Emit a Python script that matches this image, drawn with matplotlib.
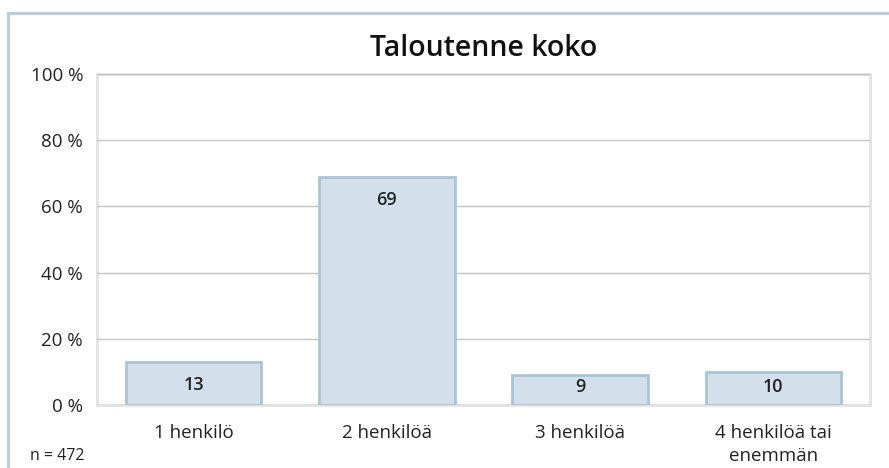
import matplotlib.pyplot as plt
from matplotlib.patches import Rectangle

categories = ["1 henkilö", "2 henkilöä", "3 henkilöä", "4 henkilöä tai\nenemmän"]
values = [13, 69, 9, 10]
yticks = [0, 20, 40, 60, 80, 100]
title = "Taloutenne koko"
note = "n = 472"

plt.rcParams['font.family'] = ['Open Sans', 'DejaVu Sans']

W, H = 889, 468
fig = plt.figure(figsize=(W / 100, H / 100), dpi=100)

# outer frame (left/top visible)
fig.patches.append(Rectangle((8 / W, -0.1), 1.2, (H - 13) / H + 0.1, transform=fig.transFigure,
                             fill=False, edgecolor='#b7cedb', linewidth=2.2))

ax = fig.add_axes([97 / W, (H - 405) / H, (870 - 97) / W, (405 - 74) / H])
x = range(len(categories))
ax.bar(x, values, width=0.70, color='#d3e0eb', edgecolor='#a9c4d6', linewidth=2, zorder=3)
for xi, v in zip(x, values):
    ax.annotate(str(v), (xi, max(v - 7.0, 5.5)), ha='center', va='center',
                fontsize=13, fontweight='semibold', color='#222222', zorder=4)

ax.set_ylim(0, 100)
ax.set_xlim(-0.5, len(categories) - 0.5)
ax.set_yticks(yticks)
ax.set_yticklabels([f"{t} %" for t in yticks], fontsize=13.5, color='#222222')
ax.set_xticks(list(x))
ax.set_xticklabels(categories, fontsize=13.5, color='#222222', linespacing=1.35)
ax.tick_params(length=0, pad=10)
ax.tick_params(axis='x', pad=14)
ax.yaxis.grid(True, color='#c4c4c4', linewidth=1, zorder=0)
for s in ax.spines.values():
    s.set_color('#e2e2e2')
    s.set_linewidth(2)
    s.set_zorder(1)

fig.text((97 + 870) / 2 / W, (H - 48) / H, title, ha='center', va='center',
         fontsize=20.5, fontweight='semibold', color='#111111')
fig.text(30 / W, (H - 456) / H, note, ha='left', va='center', fontsize=11.5, color='#222222')

fig.savefig("out.png", dpi=100)
